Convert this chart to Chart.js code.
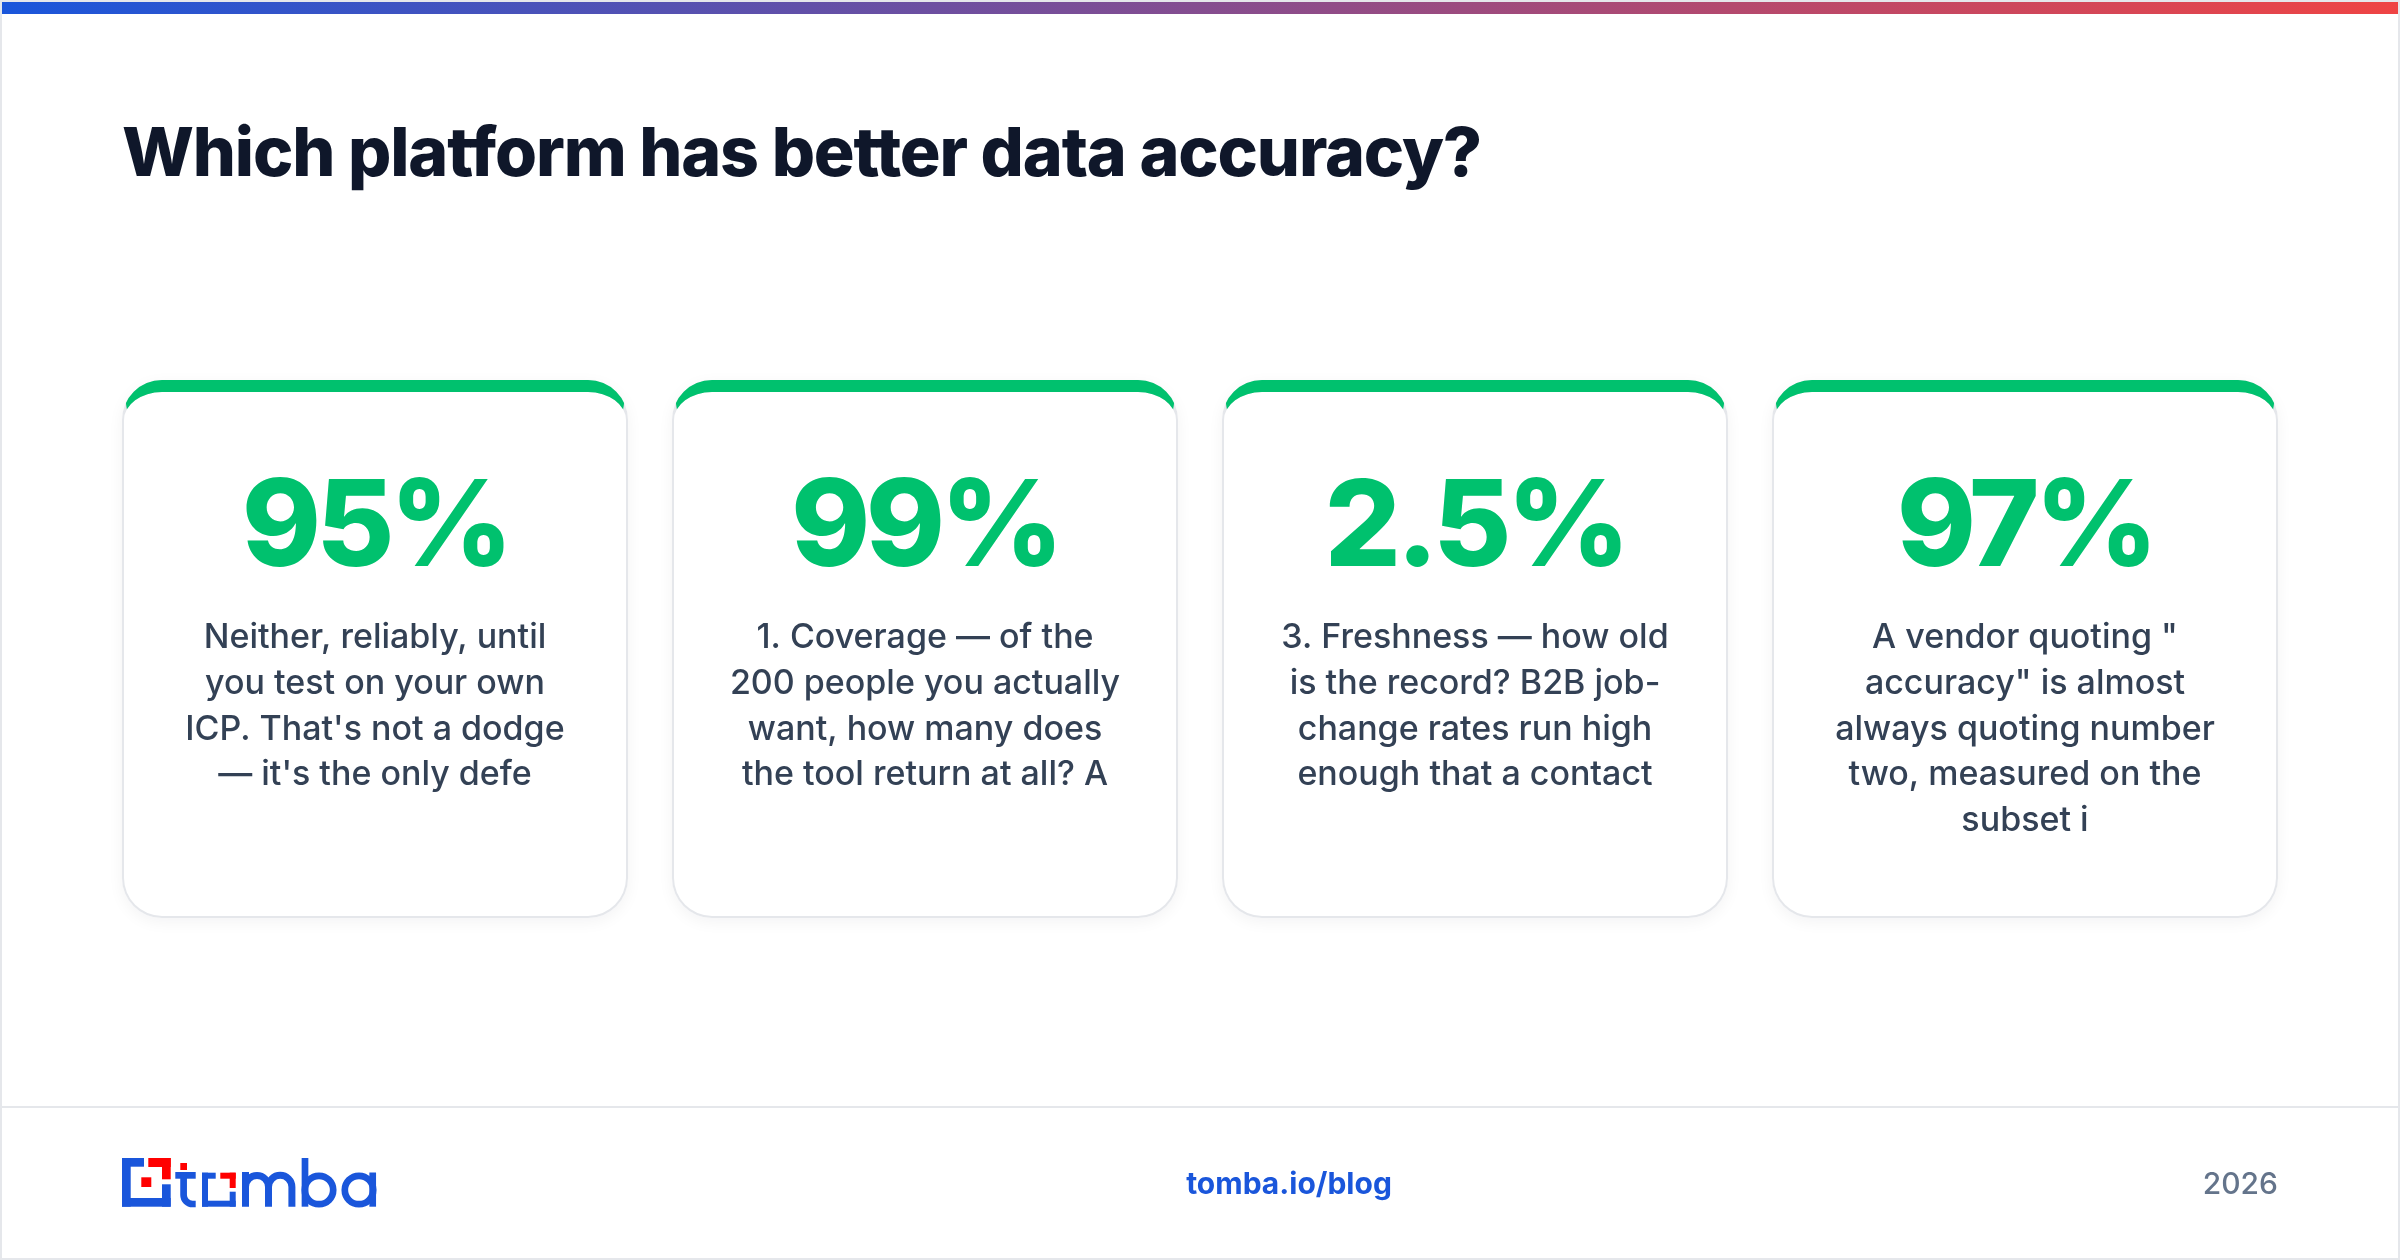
<!DOCTYPE html>
<html><head><meta charset="utf-8">
<style>html,body{margin:0;padding:0;background:#fff}canvas{display:block}</style>
<script src="https://cdn.jsdelivr.net/npm/chart.js@4"></script>
</head><body><canvas id="c" width="2400" height="1260" style="width:2400px;height:1260px"></canvas>
<script>
const titleText = "Which platform has better data accuracy?";
const statLabels = ["95%", "99%", "2.5%", "97%"];
const statValues = [95, 99, 2.5, 97];
const line1 = ["Neither, reliably, until", "you test on your own", "ICP. That's not a dodge", "— it's the only defe"];
const line2 = ["1. Coverage — of the", "200 people you actually", "want, how many does", "the tool return at all? A"];
const line3 = ["3. Freshness — how old", "is the record? B2B job-", "change rates run high", "enough that a contact"];
const line4 = ["A vendor quoting \"", "accuracy\" is almost", "always quoting number", "two, measured on the", "subset i"];
const descriptions = [line1, line2, line3, line4];
const footerLink = "tomba.io/blog";
const footerYear = "2026";

const GREEN = "#00c16e", BLUE = "#1a56db", RED = "#ff0000", BORDER = "#e5e7eb";
const F = "Inter, sans-serif";

function rect(c, x0, y0, x1, y1) { c.fillRect(x0, y0, x1 - x0, y1 - y0); }

function drawLogo(c) {
  c.save();
  c.fillStyle = BLUE;
  // outer bracket
  rect(c, 122, 1158, 144, 1166.7); rect(c, 122, 1158, 130.7, 1206.7);
  rect(c, 122, 1198, 170.7, 1206.7); rect(c, 162, 1184.3, 170.7, 1206.7);
  // o bracket
  rect(c, 202, 1172.7, 215.7, 1178.7); rect(c, 202, 1172.7, 208, 1206.7);
  rect(c, 202, 1200.7, 235.7, 1206.7); rect(c, 229.7, 1191.7, 235.7, 1206.7);
  // t
  rect(c, 175.3, 1172, 195.7, 1178.7);
  c.strokeStyle = BLUE; c.lineWidth = 6.7; c.lineCap = "butt";
  c.beginPath(); c.moveTo(183.6, 1172); c.lineTo(183.6, 1195);
  c.arc(192.6, 1195, 9, Math.PI, Math.PI / 2, true); c.lineTo(195.7, 1204); c.stroke();
  // m
  c.lineWidth = 7;
  c.beginPath(); c.moveTo(245.5, 1206.7); c.lineTo(245.5, 1172);
  c.moveTo(245.5, 1187); c.arc(257, 1187, 11.5, Math.PI, 0); c.lineTo(268.5, 1206.7);
  c.moveTo(268.5, 1187); c.arc(280.2, 1187, 11.7, Math.PI, 0); c.lineTo(291.9, 1206.7);
  c.stroke();
  // b
  c.lineWidth = 6.7;
  c.beginPath(); c.moveTo(305, 1158); c.lineTo(305, 1206.7); c.stroke();
  c.beginPath(); c.arc(319, 1190, 14.2, 0, Math.PI * 2); c.stroke();
  // a
  c.beginPath(); c.arc(359, 1190, 14.2, 0, Math.PI * 2); c.stroke();
  c.beginPath(); c.moveTo(372.7, 1172.5); c.lineTo(372.7, 1206.7); c.stroke();
  // red parts
  c.fillStyle = RED;
  rect(c, 148.3, 1158, 170.7, 1167); rect(c, 162, 1158, 170.7, 1179.3);
  rect(c, 141.3, 1177.3, 151.3, 1187);
  rect(c, 180.3, 1163, 187, 1170);
  rect(c, 220.3, 1172.7, 235.7, 1178.7); rect(c, 229.7, 1172.7, 235.7, 1188);
  c.restore();
}

function drawCard(c, cx) {
  const w = 506, h = 538, y = 380, x = cx - w / 2, r = 40;
  const inner = [{x:38,y:28},{x:38,y:28},{x:38,y:38},{x:38,y:38}];
  c.save();
  c.shadowColor = "rgba(15,23,42,0.05)"; c.shadowBlur = 16; c.shadowOffsetY = 4;
  c.fillStyle = "#fff";
  c.beginPath(); c.roundRect(x, y, w, h, r); c.fill();
  c.restore();
  const ring = () => { c.beginPath(); c.roundRect(x, y, w, h, r); c.roundRect(x + 2, y + 12, w - 4, h - 14, inner); };
  c.fillStyle = BORDER; ring(); c.fill("evenodd");
  c.save();
  c.beginPath(); c.moveTo(x, y); c.lineTo(x + w, y); c.lineTo(x + w - 10, y + 60); c.lineTo(x + 10, y + 60); c.closePath(); c.clip();
  c.fillStyle = GREEN; ring(); c.fill("evenodd");
  c.restore();
}

const slidePlugin = {
  id: "slide",
  beforeDraw(chart) {
    const c = chart.ctx, W = chart.width, H = chart.height;
    c.save();
    c.fillStyle = "#fff"; c.fillRect(0, 0, W, H);
    c.strokeStyle = BORDER; c.lineWidth = 2; c.strokeRect(1, 1, W - 2, H - 2);
    const g = c.createLinearGradient(2, 0, W - 2, 0);
    g.addColorStop(0, "#1a56db"); g.addColorStop(1, "#ef4444");
    c.fillStyle = g; c.fillRect(2, 2, W - 4, 12);
    c.fillStyle = BORDER; c.fillRect(2, 1106, W - 4, 2);
    c.textBaseline = "alphabetic";
    c.fillStyle = "#0f172a"; c.font = "800 68px " + F; c.letterSpacing = "-1.16px"; c.textAlign = "left";
    c.fillText(titleText, 122, 176);
    c.letterSpacing = "0px";
    const xs = chart.getDatasetMeta(0).data;
    xs.forEach((bar, i) => {
      const cx = bar.x;
      drawCard(c, cx);
      c.textAlign = "center";
      c.fillStyle = GREEN; c.font = "800 120px " + F; c.letterSpacing = "-4.8px";
      c.fillText(statLabels[i], cx, 566);
      c.letterSpacing = "0px";
      c.fillStyle = "#334155"; c.font = "500 34px " + F;
      descriptions[i].forEach((t, j) => c.fillText(t, cx, 648 + j * 45.8));
    });
    c.textBaseline = "alphabetic";
    c.fillStyle = BLUE; c.font = "700 30px " + F; c.textAlign = "center";
    c.fillText(footerLink, 1289, 1194);
    c.fillStyle = "#64748b"; c.font = "500 30px " + F; c.textAlign = "right";
    c.fillText(footerYear, 2278, 1194);
    drawLogo(c);
    c.restore();
  }
};

new Chart(document.getElementById("c"), {
  type: "bar",
  data: { labels: statLabels, datasets: [{ data: statValues, backgroundColor: "transparent", borderWidth: 0 }] },
  options: {
    responsive: false, animation: false, devicePixelRatio: 1,
    layout: { padding: { left: 100, right: 100, top: 380, bottom: 343 } },
    plugins: { legend: { display: false }, tooltip: { enabled: false }, title: { display: false } },
    scales: { x: { display: false }, y: { display: false, min: 0, max: 100 } }
  },
  plugins: [slidePlugin]
});
</script></body></html>
